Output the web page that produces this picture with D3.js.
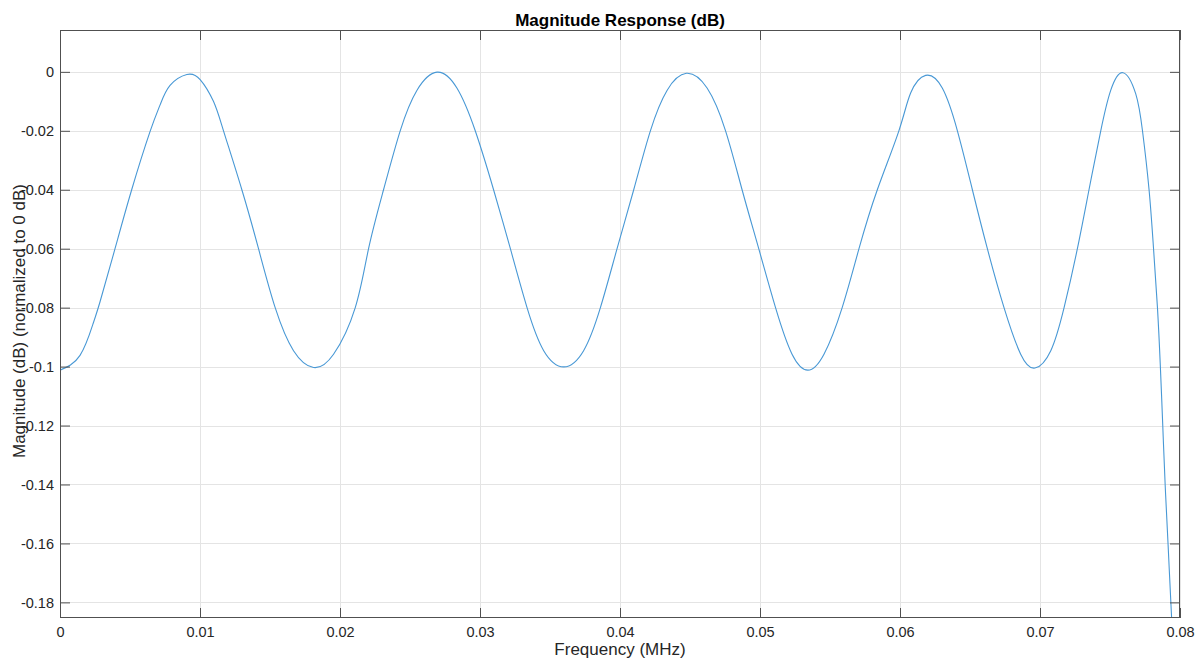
<!DOCTYPE html>
<html>
<head>
<meta charset="utf-8">
<script src="https://cdn.jsdelivr.net/npm/d3@7"></script>
<style>
  html, body { margin: 0; padding: 0; background: #fff; }
  svg { display: block; font-family: "Liberation Sans", Arial, Helvetica, sans-serif; }
</style>
</head>
<body>
<svg id="chart" width="1202" height="659"></svg>
<script>
// Passband ripple of the filter: frequency (MHz) and magnitude (dB, normalized to 0 dB)
const freqMHz = [
  0.00000, 0.00143, 0.00238, 0.00286, 0.00393, 0.00512, 0.00643, 0.00715, 0.00786, 0.00906,
  0.01001, 0.01096, 0.01168, 0.01299, 0.01418, 0.01537, 0.01668, 0.01811, 0.01954,
  0.02109, 0.02204, 0.02311, 0.02430, 0.02549, 0.02693, 0.02835, 0.02966, 0.03097,
  0.03217, 0.03336, 0.03455, 0.03598, 0.03740, 0.03860, 0.03979, 0.04098, 0.04217,
  0.04336, 0.04474, 0.04622, 0.04754, 0.04872, 0.04991, 0.05111, 0.05229, 0.05342,
  0.05457, 0.05587, 0.05707, 0.05838, 0.05992, 0.06076, 0.06183, 0.06302, 0.06410,
  0.06517, 0.06624, 0.06743, 0.06862, 0.06964, 0.07077, 0.07172, 0.07267, 0.07350,
  0.07434, 0.07505, 0.07593, 0.07684, 0.07732, 0.07779, 0.07811, 0.07839, 0.07860,
  0.07877, 0.07894, 0.07915, 0.07940, 0.07950
];
const magnitudeDB = [
  -0.1012, -0.0962, -0.0852, -0.0780, -0.0600, -0.0400, -0.0203, -0.0112, -0.0046, -0.0009,
  -0.0026, -0.0100, -0.0200, -0.0400, -0.0600, -0.0800, -0.0946, -0.1003, -0.0958,
  -0.0800, -0.0600, -0.0400, -0.0200, -0.0063, -0.0001, -0.0055, -0.0200, -0.0400,
  -0.0600, -0.0800, -0.0946, -0.1001, -0.0946, -0.0800, -0.0600, -0.0400, -0.0200,
  -0.0063, -0.0005, -0.0055, -0.0200, -0.0400, -0.0600, -0.0800, -0.0958, -0.1012,
  -0.0958, -0.0800, -0.0600, -0.0400, -0.0200, -0.0072, -0.0012, -0.0055, -0.0200,
  -0.0400, -0.0600, -0.0800, -0.0958, -0.1005, -0.0946, -0.0800, -0.0600, -0.0400,
  -0.0200, -0.0063, -0.0003, -0.0075, -0.0200, -0.0400, -0.0600, -0.0800, -0.1003,
  -0.1202, -0.1401, -0.1605, -0.1852, -0.1900
];
const xTicks = [0, 0.01, 0.02, 0.03, 0.04, 0.05, 0.06, 0.07, 0.08];
const xTickLabels = ["0", "0.01", "0.02", "0.03", "0.04", "0.05", "0.06", "0.07", "0.08"];
const yTicks = [0, -0.02, -0.04, -0.06, -0.08, -0.1, -0.12, -0.14, -0.16, -0.18];
const yTickLabels = ["0", "-0.02", "-0.04", "-0.06", "-0.08", "-0.1", "-0.12", "-0.14", "-0.16", "-0.18"];
const xDomain = [0, 0.08];
const yDomain = [-0.1853, 0.0142];

const svg = d3.select("#chart");
const box = { left: 60, right: 1180, top: 30, bottom: 618 };
const axisColor = "#505050";
const textColor = "#262626";
const gridColor = "#e4e4e4";
const tickLen = 10;

const x = d3.scaleLinear().domain(xDomain).range([box.left, box.right]);
const y = d3.scaleLinear().domain(yDomain).range([box.bottom, box.top]);

svg.append("rect")
  .attr("x", box.left).attr("y", box.top)
  .attr("width", box.right - box.left).attr("height", box.bottom - box.top)
  .attr("fill", "#fff");

// grid
const grid = svg.append("g");
grid.selectAll("line.gx").data(xTicks).join("line")
  .attr("x1", d => Math.round(x(d)) + 0.5).attr("x2", d => Math.round(x(d)) + 0.5)
  .attr("y1", box.top).attr("y2", box.bottom)
  .attr("stroke", gridColor).attr("stroke-width", 1);
grid.selectAll("line.gy").data(yTicks).join("line")
  .attr("y1", d => Math.round(y(d)) + 0.5).attr("y2", d => Math.round(y(d)) + 0.5)
  .attr("x1", box.left).attr("x2", box.right)
  .attr("stroke", gridColor).attr("stroke-width", 1);

// response curve
svg.append("clipPath").attr("id", "plotClip")
  .append("rect")
  .attr("x", box.left).attr("y", box.top)
  .attr("width", box.right - box.left).attr("height", box.bottom - box.top);

const points = freqMHz.map((f, i) => [f, magnitudeDB[i]]);
const line = d3.line()
  .x(d => x(d[0])).y(d => y(d[1]))
  .curve(d3.curveNatural);

svg.append("path")
  .datum(points)
  .attr("clip-path", "url(#plotClip)")
  .attr("fill", "none")
  .attr("stroke", "#4898d5")
  .attr("stroke-width", 1.1)
  .attr("d", line);

// axes drawn with inward ticks on all four sides
const fmtX = (d, i) => xTickLabels[i];
const fmtY = (d, i) => yTickLabels[i];

const bottomAxis = svg.append("g")
  .attr("transform", `translate(0,${box.bottom})`)
  .call(d3.axisBottom(x).tickValues(xTicks).tickFormat(fmtX).tickSizeInner(-tickLen).tickSizeOuter(0).tickPadding(9));
const topAxis = svg.append("g")
  .attr("transform", `translate(0,${box.top})`)
  .call(d3.axisTop(x).tickValues(xTicks).tickFormat("").tickSizeInner(-tickLen).tickSizeOuter(0));
const leftAxis = svg.append("g")
  .attr("transform", `translate(${box.left},0)`)
  .call(d3.axisLeft(y).tickValues(yTicks).tickFormat(fmtY).tickSizeInner(-tickLen).tickSizeOuter(0).tickPadding(6));
const rightAxis = svg.append("g")
  .attr("transform", `translate(${box.right},0)`)
  .call(d3.axisRight(y).tickValues(yTicks).tickFormat("").tickSizeInner(-tickLen).tickSizeOuter(0));

[bottomAxis, topAxis, leftAxis, rightAxis].forEach(g => {
  g.select(".domain").remove();
  g.selectAll(".tick line").attr("stroke", axisColor).attr("stroke-width", 1);
  g.selectAll(".tick text")
    .attr("fill", textColor)
    .style("font-size", "14.5px")
    .style("font-family", "'Liberation Sans', Arial, Helvetica, sans-serif");
});

// axes box
svg.append("rect")
  .attr("x", box.left + 0.5).attr("y", box.top + 0.5)
  .attr("width", box.right - box.left - 1).attr("height", box.bottom - box.top - 1)
  .attr("fill", "none").attr("stroke", axisColor).attr("stroke-width", 1);

// title and labels
svg.append("text")
  .attr("x", (box.left + box.right) / 2).attr("y", 26)
  .attr("text-anchor", "middle")
  .attr("fill", "#000")
  .style("font-size", "17px").style("font-weight", "bold")
  .text("Magnitude Response (dB)");

svg.append("text")
  .attr("x", (box.left + box.right) / 2).attr("y", 655)
  .attr("text-anchor", "middle")
  .attr("fill", textColor)
  .style("font-size", "17px")
  .text("Frequency (MHz)");

svg.append("text")
  .attr("transform", `translate(25,${(box.top + box.bottom) / 2 - 3}) rotate(-90)`)
  .attr("text-anchor", "middle")
  .attr("fill", textColor)
  .style("font-size", "17px")
  .text("Magnitude (dB) (normalized to 0 dB)");
</script>
</body>
</html>
